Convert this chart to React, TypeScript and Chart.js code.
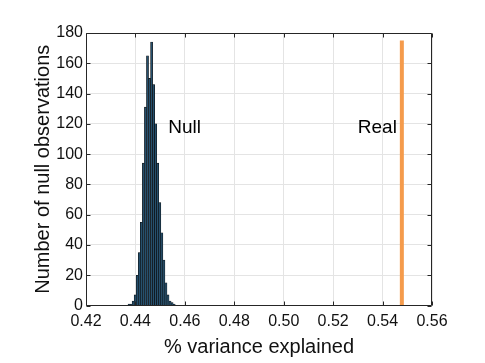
import { useEffect, useRef } from 'react';
import { Chart, registerables } from 'chart.js';

Chart.register(...registerables);

// Histogram of null observations (bin start, bin width, counts per bin)
const binStart = 0.437;
const binWidth = 0.00083;
const nullCounts = [1, 1, 3, 7, 20, 35, 55, 94, 131, 165, 150, 174, 146, 120, 94, 68, 48, 30, 15, 7, 3, 2, 1];

// Real observed value (vertical line)
const realX = [0.5478, 0.5478];
const realY = [0, 175];

// Axis ranges / ticks
const xMin = 0.42;
const xMax = 0.56;
const xStep = 0.02;
const yMin = 0;
const yMax = 180;
const yStep = 20;

// Annotations
const labelTexts = ['Null', 'Real'];
const labelX = [0.4533, 0.5458];
const labelY = [117.5, 117.5];

const FONT = "'Liberation Sans', Arial, Helvetica, sans-serif";

const framePlugin = {
  id: 'frame',
  afterDatasetsDraw(chart: any) {
    const { ctx, chartArea, scales } = chart;
    const { left, right, top, bottom } = chartArea;
    const xs = scales.x;
    const ys = scales.y;
    ctx.save();
    ctx.strokeStyle = '#262626';
    ctx.lineWidth = 1;
    const L = Math.round(left) + 0.5;
    const R = Math.round(right) - 0.5;
    const T = Math.round(top) + 0.5;
    const B = Math.round(bottom) - 0.5;
    ctx.beginPath();
    ctx.rect(L, T, R - L, B - T);
    const tl = 4;
    xs.ticks.forEach((t: any) => {
      const px = Math.round(xs.getPixelForValue(t.value)) + 0.5;
      ctx.moveTo(px, B);
      ctx.lineTo(px, B - tl);
      ctx.moveTo(px, T);
      ctx.lineTo(px, T + tl);
    });
    ys.ticks.forEach((t: any) => {
      const py = Math.round(ys.getPixelForValue(t.value)) + 0.5;
      ctx.moveTo(L, py);
      ctx.lineTo(L + tl, py);
      ctx.moveTo(R, py);
      ctx.lineTo(R - tl, py);
    });
    ctx.stroke();

    ctx.fillStyle = '#000';
    ctx.font = `19px ${FONT}`;
    ctx.textBaseline = 'middle';
    labelTexts.forEach((txt, i) => {
      ctx.textAlign = i === 0 ? 'left' : 'right';
      ctx.fillText(txt, xs.getPixelForValue(labelX[i]), ys.getPixelForValue(labelY[i]));
    });
    ctx.restore();
  },
};

export default function App() {
  const ref = useRef<HTMLCanvasElement | null>(null);

  useEffect(() => {
    document.body.style.margin = '0';
    const canvas = ref.current;
    if (!canvas) return;

    const histData = nullCounts.map((c, i) => ({ x: binStart + binWidth * (i + 0.5), y: c }));
    const realData = realX.map((x, i) => ({ x, y: realY[i] }));

    const chart = new Chart(canvas, {
      type: 'bar',
      data: {
        datasets: [
          {
            type: 'line',
            label: 'Real',
            data: realData,
            borderColor: '#f59b4c',
            borderWidth: 4,
            pointRadius: 0,
            fill: false,
            order: 0,
          } as any,
          {
            type: 'bar',
            label: 'Null',
            data: histData,
            backgroundColor: '#26506d',
            borderColor: '#0a0a0a',
            borderWidth: 0.6,
            barPercentage: 1,
            categoryPercentage: 1,
            grouped: false,
            order: 1,
          } as any,
        ],
      },
      options: {
        responsive: false,
        animation: false,
        layout: { padding: { left: 27, top: 33, right: 53, bottom: 0 } },
        plugins: {
          legend: { display: false },
          tooltip: { enabled: false },
          title: { display: false },
        },
        scales: {
          x: {
            type: 'linear',
            min: xMin,
            max: xMax,
            offset: false,
            grid: { color: '#e4e4e4', drawTicks: false, offset: false },
            border: { display: false },
            ticks: {
              stepSize: xStep,
              padding: 6,
              color: '#111',
              font: { family: FONT, size: 16 },
              callback: (v: any) => Number(v).toFixed(2),
              maxRotation: 0,
            },
            title: {
              display: true,
              text: '% variance explained',
              color: '#111',
              font: { family: FONT, size: 20 },
            },
            afterFit: (s: any) => {
              s.height = 57.5;
            },
          },
          y: {
            type: 'linear',
            min: yMin,
            max: yMax,
            grid: { color: '#e4e4e4', drawTicks: false },
            border: { display: false },
            ticks: {
              stepSize: yStep,
              padding: 3,
              color: '#111',
              font: { family: FONT, size: 16 },
            },
            title: {
              display: true,
              text: 'Number of null observations',
              color: '#111',
              font: { family: FONT, size: 20 },
            },
            afterFit: (s: any) => {
              s.width = 59;
            },
          },
        },
      },
      plugins: [framePlugin],
    });

    return () => chart.destroy();
  }, []);

  return <canvas ref={ref} width={485} height={363} style={{ display: 'block' }} />;
}
